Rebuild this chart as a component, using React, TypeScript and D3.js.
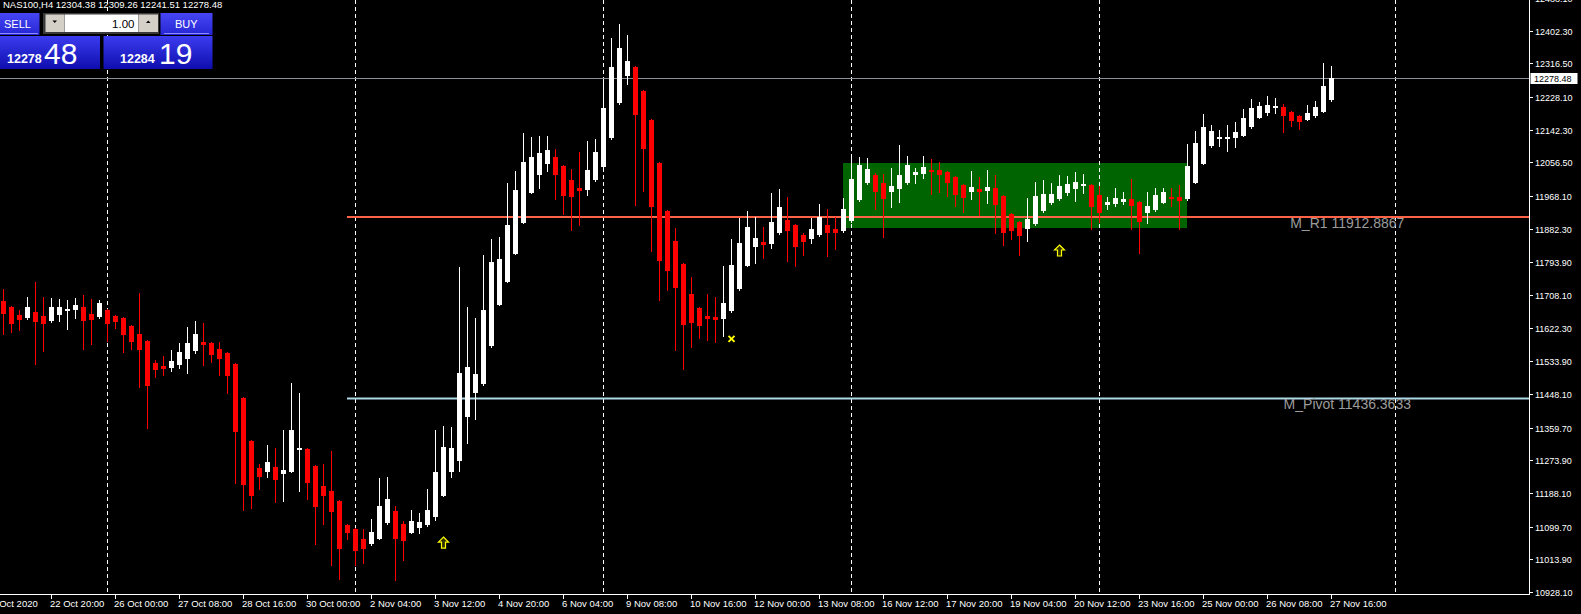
import { useEffect } from 'react';
import * as d3 from 'd3';

// NAS100 H4 candles, 21 Oct – 27 Nov 2020
const opens = [
  11693, 11677, 11656, 11648, 11664, 11653, 11640, 11656, 11666, 11669,
  11677, 11658, 11651, 11669, 11653, 11648, 11627, 11606, 11588, 11530,
  11522, 11517, 11525, 11540, 11561, 11586, 11582, 11567, 11556, 11527,
  11438, 11325, 11254, 11242, 11257, 11239, 11244, 11300, 11304, 11259,
  11207, 11194, 11167, 11104, 11094, 11068, 11053, 11068, 11110, 11141,
  11107, 11084, 11097, 11105, 11124, 11181, 11244, 11273, 11389, 11452,
  11475, 11573, 11683, 11743, 11817, 11898, 11977, 12022, 12051, 12071,
  12047, 12010, 11989, 11985, 12009, 12045, 12121, 12213, 12283, 12307,
  12244, 12168, 12055, 11929, 11850, 11790, 11711, 11674, 11653, 11651,
  11645, 11666, 11724, 11785, 11834, 11848, 11842, 11871, 11905, 11892,
  11866, 11855, 11866, 11892, 11882, 11876, 11903, 11958, 12002, 12023,
  12002, 11979, 11987, 12002, 12023, 12026, 12037, 12037, 12031, 12018,
  11997, 11979, 11987, 11981, 11989, 11968, 11921, 11900, 11882, 11895,
  11929, 11950, 11960, 11976, 11987, 11995, 11997, 11971, 11945, 11947,
  11953, 11960, 11953, 11924, 11932, 11951, 11966, 11966, 11959, 12003,
  12053, 12100, 12119, 12119, 12121, 12127, 12150, 12174, 12187, 12198,
  12202, 12189, 12178, 12169, 12177, 12190, 12220,
];

const highs = [
  11724, 11678, 11669, 11703, 11742, 11703, 11700, 11698, 11695, 11700,
  11708, 11698, 11695, 11671, 11656, 11650, 11629, 11714, 11590, 11538,
  11548, 11564, 11582, 11624, 11640, 11635, 11584, 11585, 11558, 11529,
  11440, 11327, 11264, 11314, 11307, 11354, 11477, 11451, 11306, 11261,
  11265, 11299, 11169, 11106, 11096, 11094, 11120, 11228, 11230, 11154,
  11115, 11144, 11136, 11199, 11354, 11364, 11362, 11782, 11677, 11648,
  11813, 11855, 11861, 12002, 12034, 12134, 12123, 12126, 12126, 12092,
  12049, 12039, 12084, 12113, 12118, 12276, 12383, 12420, 12391, 12309,
  12246, 12170, 12057, 11931, 11884, 11792, 11756, 11676, 11711, 11703,
  11785, 11855, 11911, 11929, 11913, 11887, 11976, 11987, 11966, 11894,
  11871, 11911, 11947, 11934, 11913, 11963, 12073, 12071, 12068, 12029,
  12026, 12042, 12102, 12073, 12042, 12073, 12065, 12058, 12033, 12020,
  11999, 12034, 12018, 12037, 12023, 11970, 11923, 11902, 11963, 12005,
  12010, 12002, 12023, 12021, 12031, 12026, 11999, 11995, 11966, 11989,
  11979, 12013, 11955, 11979, 11989, 11989, 11989, 11997, 12105, 12139,
  12184, 12155, 12142, 12155, 12163, 12197, 12223, 12215, 12231, 12226,
  12210, 12191, 12180, 12207, 12218, 12318, 12309.26,
];

const lows = [
  11607, 11611, 11616, 11646, 11528, 11561, 11638, 11640, 11619, 11648,
  11567, 11580, 11649, 11588, 11622, 11559, 11567, 11467, 11359, 11493,
  11498, 11509, 11517, 11504, 11556, 11523, 11531, 11498, 11452, 11214,
  11144, 11148, 11198, 11229, 11164, 11168, 11242, 11194, 11173, 11055,
  11108, 10998, 10963, 11066, 10999, 11003, 11051, 11066, 11108, 10960,
  11013, 11082, 11084, 11102, 11118, 11179, 11231, 11247, 11320, 11383,
  11473, 11571, 11681, 11741, 11815, 11896, 11975, 11990, 12035, 11959,
  11922, 11880, 11893, 11972, 12007, 12043, 12119, 12211, 12263, 11945,
  11982, 11824, 11695, 11721, 11564, 11514, 11572, 11595, 11590, 11585,
  11601, 11664, 11722, 11783, 11792, 11806, 11832, 11869, 11798, 11785,
  11813, 11845, 11864, 11811, 11829, 11874, 11901, 11956, 12000, 11934,
  11861, 11939, 11952, 12000, 12002, 12016, 11974, 11979, 11968, 11942,
  11926, 11960, 11918, 11950, 11871, 11840, 11855, 11813, 11850, 11893,
  11927, 11947, 11958, 11971, 11955, 11976, 11882, 11900, 11935, 11942,
  11947, 11882, 11819, 11898, 11930, 11949, 11943, 11882, 11957, 12001,
  12051, 12098, 12100, 12087, 12098, 12125, 12148, 12172, 12182, 12187,
  12135, 12153, 12145, 12167, 12175, 12188, 12218,
];

const closes = [
  11659, 11633, 11643, 11677, 11638, 11633, 11677, 11677, 11672, 11682,
  11640, 11643, 11687, 11633, 11637, 11603, 11585, 11564, 11469, 11511,
  11514, 11535, 11559, 11582, 11606, 11577, 11551, 11540, 11496, 11349,
  11208, 11181, 11231, 11270, 11223, 11249, 11354, 11307, 11215, 11152,
  11179, 11139, 11040, 11082, 11037, 11042, 11086, 11154, 11173, 11068,
  11063, 11115, 11112, 11144, 11244, 11309, 11307, 11504, 11519, 11501,
  11669, 11796, 11803, 11892, 11984, 12058, 12071, 12081, 12089, 12022,
  11969, 11966, 11980, 12037, 12084, 12199, 12307, 12357, 12323, 12181,
  12092, 11939, 11798, 11771, 11727, 11630, 11635, 11627, 11645, 11643,
  11687, 11787, 11845, 11887, 11858, 11840, 11900, 11939, 11876, 11834,
  11848, 11882, 11913, 11871, 11871, 11934, 12013, 12050, 12039, 11979,
  11960, 11995, 12023, 12050, 12031, 12044, 12031, 12023, 12002, 11971,
  11963, 11992, 11979, 11992, 11945, 11871, 11876, 11863, 11908, 11968,
  11974, 11974, 11995, 12000, 12005, 12000, 11939, 11924, 11953, 11963,
  11960, 11942, 11900, 11942, 11971, 11979, 11960, 11955, 12047, 12108,
  12150, 12139, 12124, 12124, 12136, 12173, 12199, 12205, 12207, 12205,
  12177, 12166, 12163, 12186, 12202, 12257, 12278.48,
];

const priceTicks = [
  12488.1, 12402.3, 12316.5, 12228.1, 12142.3, 12056.5, 11968.1, 11882.3, 11793.9,
  11708.1, 11622.3, 11533.9, 11448.1, 11359.7, 11273.9, 11188.1, 11099.7,
  11013.9, 10928.1,
];

const timeTickBars = [-2, 6, 14, 22, 30, 38, 46, 54, 62, 70, 78, 86, 94, 102, 110, 118, 126, 134, 142, 150, 158, 166];
const timeTickLabels = [
  '22 Oct 2020', '22 Oct 20:00', '26 Oct 00:00', '27 Oct 08:00', '28 Oct 16:00', '30 Oct 00:00',
  '2 Nov 04:00', '3 Nov 12:00', '4 Nov 20:00', '6 Nov 04:00', '9 Nov 08:00', '10 Nov 16:00',
  '12 Nov 00:00', '13 Nov 08:00', '16 Nov 12:00', '17 Nov 20:00', '19 Nov 04:00', '20 Nov 12:00',
  '23 Nov 16:00', '25 Nov 00:00', '26 Nov 08:00', '27 Nov 16:00',
];

// weekly period separators (bar index)
const separatorBars = [13, 44, 75, 106, 137, 174];

const lastPrice = 12278.48;
const headerOHLC = ['12304.38', '12309.26', '12241.51', '12278.48'];

// monthly pivot lines
const levelNames = ['M_R1', 'M_Pivot'];
const levelValues = [11912.8867, 11436.3633];
const levelColors = ['#ff6347', '#add8e6'];
const levelStartBar = 43;
const levelLabelBar = 168;

// consolidation rectangle
const boxBars = [105, 148];
const boxPrices = [12055, 11885];

// arrow objects
const arrowBars = [55, 132];
const arrowPrices = [11058, 11825];
const crossBar = 91;
const crossPrice = 11593;

const W = 1581;
const H = 614;
const PLOT_RIGHT = 1529;
const PLOT_BOTTOM = 594;
const FONT = '"Liberation Sans", Arial, sans-serif';

const COLORS = {
  bull: '#ffffff',
  bear: '#ff0000',
  axis: '#ffffff',
  box: '#006400',
  last: '#8a8f99',
  levelText: '#9c9c9c',
  marker: '#ffff00',
};

function TradePanel() {
  return (
    <g fontFamily={FONT}>
      <defs>
        <linearGradient id="btnGrad" x1="0" y1="0" x2="0" y2="1">
          <stop offset="0" stopColor="#4646f4" />
          <stop offset="1" stopColor="#2626d4" />
        </linearGradient>
        <linearGradient id="priceGrad" x1="0" y1="0" x2="0" y2="1">
          <stop offset="0" stopColor="#3c3cf0" />
          <stop offset="1" stopColor="#0e0eae" />
        </linearGradient>
      </defs>
      {/* SELL button */}
      <rect x={0} y={13} width={39.5} height={22} fill="url(#btnGrad)" />
      <line x1={0} x2={38} y1={33.5} y2={33.5} stroke="#8a8aff" />
      <text x={4} y={28.3} fontSize={11} fill="#fff">SELL</text>
      {/* lot size */}
      <rect x={43} y={13} width={116} height={21} fill="#3a3a3a" />
      <rect x={45.5} y={14.5} width={18.5} height={17.5} fill="#d4d0c8" />
      <path d="M52.5,20.5 h4.5 l-2.25,2.5 z" fill="#000" />
      <rect x={64.5} y={14.5} width={74} height={17.5} fill="#fff" />
      <text x={134.5} y={27.5} textAnchor="end" fontSize={11.5} fill="#000">1.00</text>
      <rect x={139} y={14.5} width={19} height={17.5} fill="#d4d0c8" />
      <path d="M146,23 h4.5 l-2.25,-2.5 z" fill="#000" />
      {/* BUY button */}
      <rect x={160.5} y={13} width={52} height={22} fill="url(#btnGrad)" />
      <line x1={164} x2={209} y1={33.5} y2={33.5} stroke="#8a8aff" />
      <text x={186.3} y={28.3} textAnchor="middle" fontSize={11} fill="#fff">BUY</text>
      {/* price boxes */}
      <rect x={0} y={36} width={100} height={33} fill="url(#priceGrad)" />
      <text x={7} y={62.7} fontSize={12.5} fontWeight="bold" fill="#fff">12278</text>
      <text x={44} y={64} fontSize={30} fill="#fff">48</text>
      <rect x={103.5} y={36} width={109} height={33} fill="url(#priceGrad)" />
      <text x={120} y={62.7} fontSize={12.5} fontWeight="bold" fill="#fff">12284</text>
      <text x={159} y={64} fontSize={30} fill="#fff">19</text>
    </g>
  );
}

export default function App() {
  useEffect(() => {
    document.body.style.margin = '0';
    document.body.style.background = '#000';
  }, []);

  const x = d3.scaleLinear().domain([0, opens.length - 1]).range([3.3, 1331.3]);
  const y = d3.scaleLinear().domain([10928.1, 12402.3]).range([592, 30.7]);
  const cx = (i: number) => Math.round(x(i));
  const cy = (p: number) => Math.round(y(p));

  const lastY = cy(lastPrice) + 0.5;

  return (
    <svg width={W} height={H} style={{ display: 'block', background: '#000' }}>
      <defs>
        <clipPath id="plot">
          <rect x={0} y={0} width={PLOT_RIGHT} height={PLOT_BOTTOM} />
        </clipPath>
      </defs>
      <rect x={0} y={0} width={W} height={H} fill="#000" />

      <g clipPath="url(#plot)">
        {/* rectangle object */}
        <rect
          x={cx(boxBars[0])}
          y={cy(boxPrices[0])}
          width={cx(boxBars[1]) - cx(boxBars[0])}
          height={cy(boxPrices[1]) - cy(boxPrices[0])}
          fill={COLORS.box}
        />

        {/* period separators */}
        {separatorBars.map((b) => (
          <line
            key={b}
            x1={cx(b) + 0.5}
            x2={cx(b) + 0.5}
            y1={0}
            y2={PLOT_BOTTOM}
            stroke="#fff"
            strokeDasharray="4,3"
          />
        ))}

        {/* last price line */}
        <line x1={0} x2={PLOT_RIGHT} y1={lastY} y2={lastY} stroke={COLORS.last} />

        {/* pivot levels */}
        {levelValues.map((v, k) => (
          <g key={levelNames[k]}>
            <line
              x1={cx(levelStartBar)}
              x2={PLOT_RIGHT}
              y1={y(v)}
              y2={y(v)}
              stroke={levelColors[k]}
              strokeWidth={2}
            />
            <text
              x={x(levelLabelBar)}
              y={y(v) + 11}
              textAnchor="middle"
              fontFamily={FONT}
              fontSize={14}
              fill={COLORS.levelText}
            >
              {`${levelNames[k]} ${v.toFixed(4)}`}
            </text>
          </g>
        ))}

        {/* candles */}
        {opens.map((o, i) => {
          const c = closes[i];
          const bull = c >= o;
          const col = bull ? COLORS.bull : COLORS.bear;
          const xc = cx(i);
          const yTop = cy(Math.max(o, c));
          const yBot = cy(Math.min(o, c));
          return (
            <g key={i}>
              <line
                x1={xc + 0.5}
                x2={xc + 0.5}
                y1={cy(highs[i])}
                y2={cy(lows[i]) + 1}
                stroke={col}
              />
              <rect x={xc - 2} y={yTop} width={5} height={Math.max(1, yBot - yTop)} fill={col} />
            </g>
          );
        })}

        {/* arrows */}
        {arrowBars.map((b, k) => (
          <path
            key={b}
            transform={`translate(${cx(b) + 0.5},${y(arrowPrices[k])})`}
            d="M0,-5.5 L5,-0.5 L2,-0.5 L2,5.5 L-2,5.5 L-2,-0.5 L-5,-0.5 Z"
            fill="#2e2e00"
            stroke={COLORS.marker}
            strokeWidth={1.2}
          />
        ))}
        <g transform={`translate(${cx(crossBar) + 0.5},${y(crossPrice)})`} stroke={COLORS.marker} strokeWidth={2}>
          <line x1={-3} y1={-3} x2={3} y2={3} />
          <line x1={-3} y1={3} x2={3} y2={-3} />
        </g>
      </g>

      {/* price axis */}
      <line x1={PLOT_RIGHT + 0.5} x2={PLOT_RIGHT + 0.5} y1={0} y2={PLOT_BOTTOM + 1} stroke={COLORS.axis} />
      {priceTicks.map((p) => (
        <g key={p}>
          <line x1={PLOT_RIGHT} x2={PLOT_RIGHT + 4} y1={cy(p) + 0.5} y2={cy(p) + 0.5} stroke={COLORS.axis} />
          <text
            x={PLOT_RIGHT + 6}
            y={cy(p) + 3.5}
            fontFamily={FONT}
            fontSize={9}
            fill={COLORS.axis}
          >
            {p.toFixed(2)}
          </text>
        </g>
      ))}
      <rect x={PLOT_RIGHT + 1.5} y={lastY - 5.5} width={47} height={11} fill="#fff" />
      <text x={PLOT_RIGHT + 5} y={lastY + 3.5} fontFamily={FONT} fontSize={9} fill="#000">
        {lastPrice.toFixed(2)}
      </text>

      {/* time axis */}
      <line x1={0} x2={PLOT_RIGHT + 1} y1={PLOT_BOTTOM + 0.5} y2={PLOT_BOTTOM + 0.5} stroke={COLORS.axis} />
      {timeTickBars.map((b, k) => (
        <g key={b}>
          <line x1={cx(b) + 0.5} x2={cx(b) + 0.5} y1={PLOT_BOTTOM} y2={PLOT_BOTTOM + 5} stroke={COLORS.axis} />
          <text x={cx(b) - 1} y={607} fontFamily={FONT} fontSize={9.5} fill={COLORS.axis}>
            {timeTickLabels[k]}
          </text>
        </g>
      ))}

      {/* header */}
      <text x={3} y={7.5} fontFamily={FONT} fontSize={9.5} fill="#fff">
        {`NAS100,H4  ${headerOHLC.join(' ')}`}
      </text>

      <TradePanel />
    </svg>
  );
}
